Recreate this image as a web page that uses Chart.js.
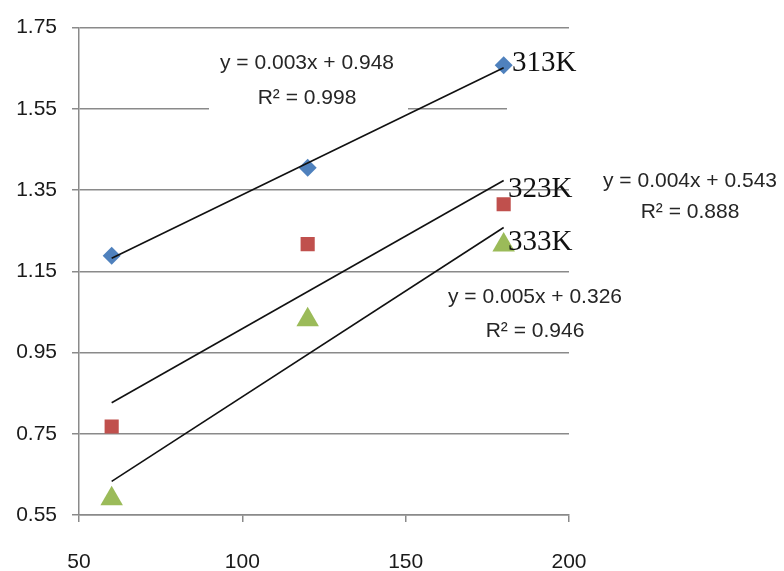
<!DOCTYPE html>
<html><head><meta charset="utf-8">
<script src="https://cdn.jsdelivr.net/npm/chart.js@4.4.0/dist/chart.umd.min.js"></script>
<style>html,body{margin:0;padding:0;background:#fff}canvas{display:block}</style>
</head><body><canvas id="c" width="784" height="571"></canvas>
<script>
// ---- data ----
const xValues = [60, 120, 180];
const series313K = [1.188, 1.405, 1.657];
const series323K = [0.768, 1.217, 1.315];
const series333K = [0.59, 1.031, 1.215];
const seriesNames = ['313K', '323K', '333K'];
const eq313K = ['y = 0.003x + 0.948', 'R² = 0.998'];
const eq323K = ['y = 0.004x + 0.543', 'R² = 0.888'];
const eq333K = ['y = 0.005x + 0.326', 'R² = 0.946'];
const xTickValues = [50, 100, 150, 200];
const yTickValues = [0.55, 0.75, 0.95, 1.15, 1.35, 1.55, 1.75];

// least-squares trend line from the series
function trend(xs, ys) {
  const n = xs.length;
  const mx = xs.reduce((a, b) => a + b, 0) / n;
  const my = ys.reduce((a, b) => a + b, 0) / n;
  let sxy = 0, sxx = 0;
  for (let i = 0; i < n; i++) { sxy += (xs[i] - mx) * (ys[i] - my); sxx += (xs[i] - mx) ** 2; }
  const b = sxy / sxx, a = my - b * mx;
  return [xs[0], xs[n - 1]].map(x => ({ x: x, y: a + b * x }));
}
const pts = ys => xValues.map((x, i) => ({ x: x, y: ys[i] }));

const SANS = '"Liberation Sans", Arial, sans-serif';
const SERIF = '"Liberation Serif", "Times New Roman", serif';
const GRID = '#8a8a8a';

const overlay = {
  id: 'overlay',
  beforeDatasetsDraw(chart) {
    const ctx = chart.ctx;
    ctx.save();
    ctx.fillStyle = '#fff';
    ctx.fillRect(209, 98, 199, 14);   // equation box masking gridline
    ctx.fillRect(507, 98, 70, 14);    // label box masking gridline
    ctx.restore();
  },
  afterDatasetsDraw(chart) {
    const ctx = chart.ctx;
    ctx.save();
    ctx.textBaseline = 'middle';
    ctx.fillStyle = '#262626';
    ctx.font = '21px ' + SANS;
    ctx.textAlign = 'center';
    ctx.fillText(eq313K[0], 307, 63);
    ctx.fillText(eq313K[1], 307, 98);
    ctx.fillText(eq323K[0], 690, 181);
    ctx.fillText(eq323K[1], 690, 212);
    ctx.fillText(eq333K[0], 535, 297);
    ctx.fillText(eq333K[1], 535, 331);
    ctx.fillStyle = '#111';
    ctx.font = '29px ' + SERIF;
    ctx.textAlign = 'left';
    ctx.fillText(seriesNames[0], 512, 63);
    ctx.fillText(seriesNames[1], 508, 189);
    ctx.fillText(seriesNames[2], 508, 242);
    ctx.restore();
  }
};

new Chart(document.getElementById('c'), {
  type: 'scatter',
  data: {
    datasets: [
      { label: seriesNames[0] + ' trend', data: trend(xValues, series313K), type: 'line', showLine: true, borderColor: '#111', borderWidth: 1.6, pointRadius: 0, order: 0 },
      { label: seriesNames[1] + ' trend', data: trend(xValues, series323K), type: 'line', showLine: true, borderColor: '#111', borderWidth: 1.6, pointRadius: 0, order: 0 },
      { label: seriesNames[2] + ' trend', data: trend(xValues, series333K), type: 'line', showLine: true, borderColor: '#111', borderWidth: 1.6, pointRadius: 0, order: 0 },
      { label: seriesNames[0], data: pts(series313K), pointStyle: 'rectRot', pointRadius: 9, backgroundColor: '#4F81BD', borderColor: '#4F81BD', borderWidth: 0, order: 1 },
      { label: seriesNames[1], data: pts(series323K), pointStyle: 'rect', pointRadius: 10, backgroundColor: '#C0504D', borderColor: '#C0504D', borderWidth: 0, order: 1 },
      { label: seriesNames[2], data: pts(series333K), pointStyle: 'triangle', pointRadius: 13, backgroundColor: '#9BBB59', borderColor: '#9BBB59', borderWidth: 0, order: 1 }
    ]
  },
  options: {
    responsive: false,
    animation: false,
    layout: { padding: { top: 24, right: 215, left: 0, bottom: 0 } },
    plugins: { legend: { display: false }, tooltip: { enabled: false } },
    scales: {
      x: {
        type: 'linear', min: 50, max: 200,
        afterBuildTicks: s => { s.ticks = xTickValues.map(v => ({ value: v })); },
        afterFit: s => { s.height = 56; },
        grid: { drawOnChartArea: false, drawTicks: true, tickLength: 7, color: GRID, lineWidth: 1.5 },
        border: { display: true, color: GRID, width: 1.5 },
        ticks: { padding: 28, color: '#1a1a1a', font: { family: SANS, size: 21 }, callback: v => String(v) }
      },
      y: {
        type: 'linear', min: 0.55, max: 1.75,
        afterBuildTicks: s => { s.ticks = yTickValues.map(v => ({ value: v })); },
        afterFit: s => { s.width = 79; },
        grid: { drawOnChartArea: true, drawTicks: true, tickLength: 7, color: GRID, lineWidth: 1.5 },
        border: { display: true, color: GRID, width: 1.5 },
        ticks: { padding: 15, color: '#1a1a1a', font: { family: SANS, size: 21 }, callback: v => Number(v).toFixed(2) }
      }
    }
  },
  plugins: [overlay]
});
</script>
</body></html>
